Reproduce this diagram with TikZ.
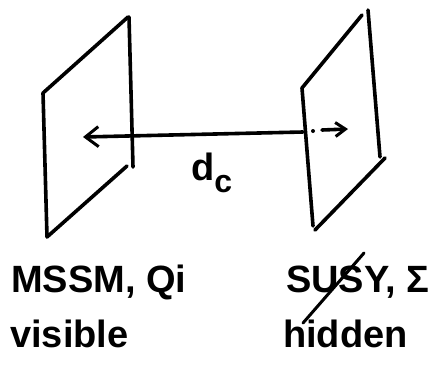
\documentclass[tikz,border=0pt]{standalone}
\usepackage{fontspec}
\setmainfont{Liberation Sans}
\usetikzlibrary{arrows.meta}
\begin{document}
\begin{tikzpicture}[x=1pt,y=-1pt,
  ink/.style={line width=3.6pt,line cap=round,line join=round},
  lbl/.style={font=\bfseries\fontsize{38}{40}\selectfont,inner sep=0pt,anchor=base west},
  barbL/.style={{Straight Barb[length=13pt,width=20pt,line width=3pt]}-},
  barbR/.style={-{Straight Barb[length=10pt,width=14pt,line width=3pt]}}]
\useasboundingbox (0,0) rectangle (433,367);
% left plane (visible brane)
\draw[ink] (129,17) -- (133,167);
\draw[ink] (128,17) -- (43,93) -- (47,237) -- (127,166);
% right plane (hidden brane)
\draw[ink] (368,10) -- (380,157);
\draw[ink] (362,15) -- (302,88) -- (313,226);
\draw[ink] (385,158) -- (315,230);
% distance arrow
\coordinate (lt) at (83,137);
\coordinate (mid) at (303,132);
\coordinate (dot) at (313,131);
\coordinate (ds) at (322,130);
\coordinate (rt) at (348,129);
\draw[ink,barbL] (lt) -- (mid);
\fill (dot) circle (2pt);
\draw[ink,barbR] (ds) -- (rt);
\node[lbl] (dc) at (191,180) {d\raisebox{-0.34em}{\fontsize{32}{34}\selectfont c}};
% labels
\node[lbl] (mssm) at (11,292) {MSSM, Qi};
\node[lbl] (vis) at (10,347) {visible};
\node[lbl] (susy) at (286,292) {SUSY, Σ};
\node[lbl] (hid) at (283,347) {hidden};
\draw[ink,line width=3pt] (303,323) -- (364,253);
\end{tikzpicture}
\end{document}
